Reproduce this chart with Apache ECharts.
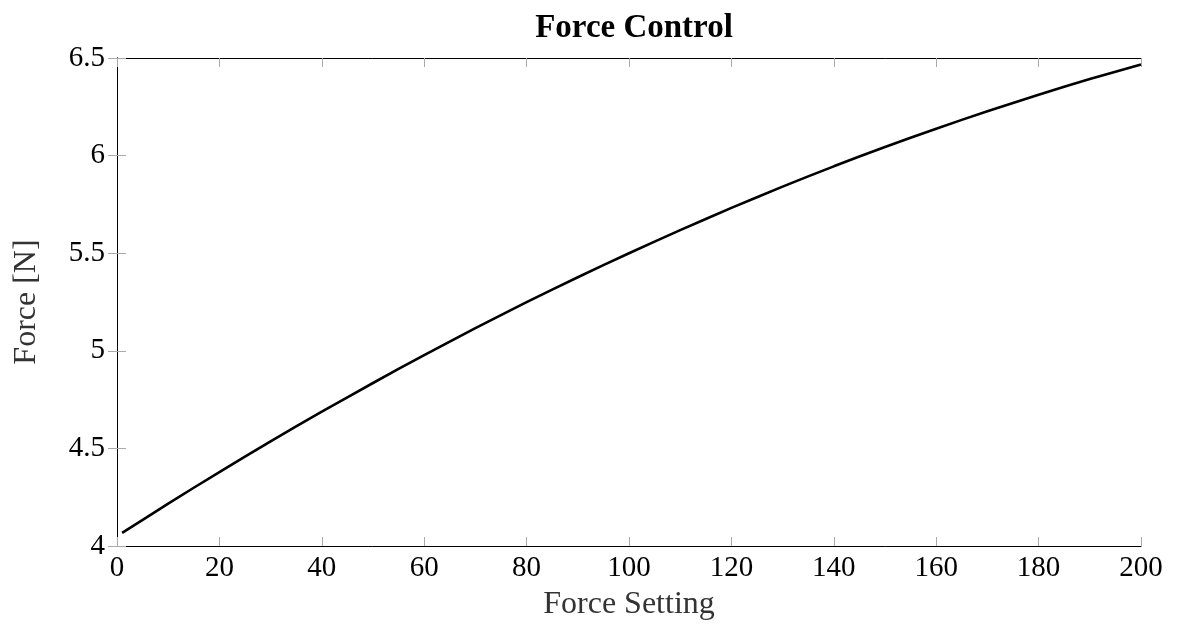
<!DOCTYPE html>
<html>
<head>
<meta charset="utf-8">
<script src="https://cdn.jsdelivr.net/npm/echarts@6/dist/echarts.min.js"></script>
<style>
  html, body { margin: 0; padding: 0; background: #fff; }
  #main { width: 1177px; height: 632px; }
</style>
</head>
<body>
<div id="main"></div>
<script>
// values
var settings = [1, 10, 20, 30, 40, 50, 60, 70, 80, 90, 100, 110, 120, 130, 140, 150, 160, 170, 180, 190, 200];
var forces = [4.067, 4.217, 4.379, 4.536, 4.688, 4.835, 4.978, 5.116, 5.249, 5.377, 5.500, 5.618, 5.732, 5.841, 5.945, 6.044, 6.138, 6.227, 6.312, 6.392, 6.467];

var font = 'Liberation Serif';

var points = [];
for (var i = 0; i < settings.length; i++) {
    points.push([settings[i], forces[i]]);
}

var chart = echarts.init(document.getElementById('main'));
var tickStyle = { show: true, inside: true, length: 9, lineStyle: { color: '#aaaaaa', width: 1 } };
var frameLine = { show: true, lineStyle: { color: '#000', width: 1 } };

var option = {
    animation: false,
    backgroundColor: '#fff',
    title: {
        text: 'Force Control',
        left: 629,
        textAlign: 'center',
        top: 7,
        textStyle: { fontFamily: font, fontWeight: 'bold', fontSize: 33, color: '#000' }
    },
    grid: { left: 117, right: 36, top: 58, bottom: 86 },
    xAxis: [
        {
            type: 'value', min: 0, max: 200, interval: 20,
            name: 'Force Setting', nameLocation: 'middle', nameGap: 43,
            nameTextStyle: { fontFamily: font, fontSize: 32, color: '#333' },
            axisLine: frameLine, axisTick: tickStyle, splitLine: { show: false },
            axisLabel: { fontFamily: font, fontSize: 29, color: '#000', margin: 8 }
        },
        {
            type: 'value', position: 'top', min: 0, max: 200, interval: 20,
            axisLine: frameLine, axisTick: tickStyle, splitLine: { show: false },
            axisLabel: { show: false }
        }
    ],
    yAxis: [
        {
            type: 'value', min: 4, max: 6.5, interval: 0.5,
            name: 'Force [N]', nameLocation: 'middle', nameGap: 74,
            nameTextStyle: { fontFamily: font, fontSize: 32, color: '#333' },
            axisLine: frameLine, axisTick: tickStyle, splitLine: { show: false },
            axisLabel: { fontFamily: font, fontSize: 29, color: '#000', margin: 12 }
        },
        {
            type: 'value', position: 'right', min: 4, max: 6.5, interval: 0.5,
            axisLine: frameLine, axisTick: tickStyle, splitLine: { show: false },
            axisLabel: { show: false }
        }
    ],
    series: [
        {
            type: 'line',
            data: points,
            smooth: 0.3,
            showSymbol: false,
            lineStyle: { color: '#000', width: 2.6 }
        }
    ]
};

chart.setOption(option);
</script>
</body>
</html>
